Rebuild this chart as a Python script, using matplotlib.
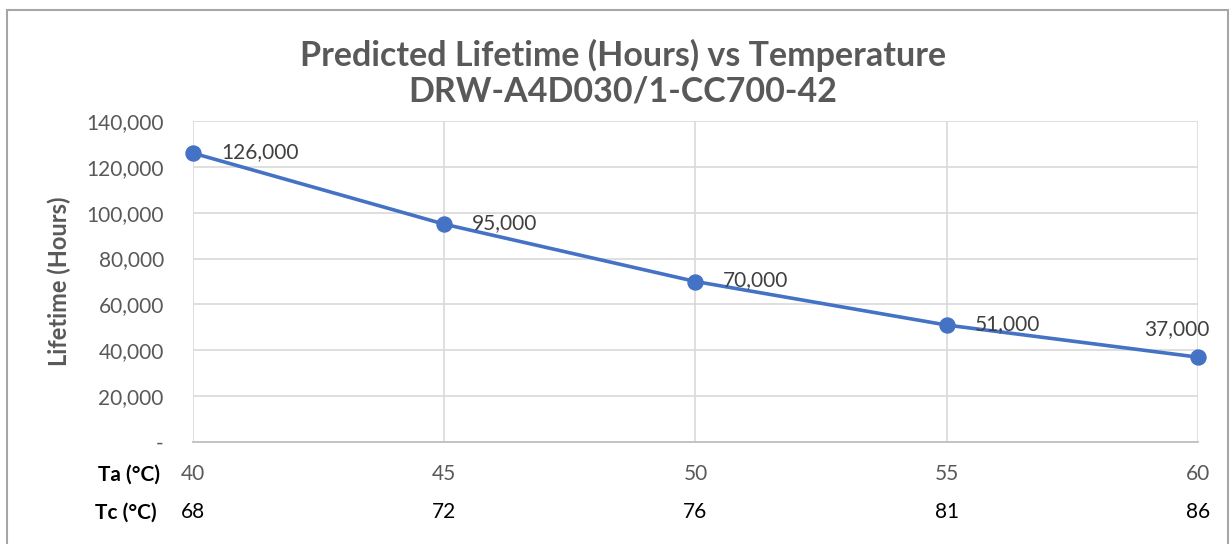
import matplotlib.pyplot as plt
from matplotlib.patches import Rectangle

plt.rcParams['font.family'] = ['Lato', 'DejaVu Sans']

ta = [40, 45, 50, 55, 60]
tc = [68, 72, 76, 81, 86]
lifetime = [126000, 95000, 70000, 51000, 37000]
yticks = [0, 20000, 40000, 60000, 80000, 100000, 120000, 140000]

gray = '#595959'
blue = '#4472C4'
fs = 15

fig = plt.figure(figsize=(12.3, 5.44), dpi=100)
ax = fig.add_axes([193 / 1230, 1 - 442 / 544, (1198 - 193) / 1230, (442 - 121) / 544])

# outer chart frame
fig.patches.append(Rectangle((7 / 1230, -0.05), (1228 - 7) / 1230, 1.05 - 10 / 544,
                             transform=fig.transFigure, fill=False,
                             edgecolor='#A6A6A6', linewidth=1.5))

xs = list(range(len(ta)))
ax.plot(xs, lifetime, color=blue, linewidth=2.6, marker='o', markersize=10.8,
        clip_on=False, zorder=3)

for i, v in enumerate(lifetime):
    if i == len(lifetime) - 1:
        ax.annotate(f'{v:,}', (i, v), xytext=(8, 20), textcoords='offset points',
                    ha='right', va='center', fontsize=fs, color='#404040')
    else:
        ax.annotate(f'{v:,}', (i, v), xytext=(20, 1), textcoords='offset points',
                    ha='left', va='center', fontsize=fs, color='#404040')

ax.set_xlim(0, len(ta) - 1)
ax.set_ylim(0, 140000)
ax.set_yticks(yticks)
ax.set_yticklabels(['-' if t == 0 else f'{t:,}' for t in yticks], fontsize=fs, color=gray)
ax.set_xticks(xs)
ax.set_xticklabels([])
ax.tick_params(length=0, pad=21)
ax.grid(True, color='#D9D9D9', linewidth=1.2)
ax.set_axisbelow(True)
for s in ['top', 'right', 'left']:
    ax.spines[s].set_visible(False)
ax.spines['bottom'].set_color('#BFBFBF')
ax.spines['bottom'].set_linewidth(1.3)

for i in xs:
    ax.annotate(str(ta[i]), (i, 0), xycoords=('data', 'axes fraction'),
                xytext=(0, -16), textcoords='offset points',
                ha='center', va='top', fontsize=fs, color=gray)
    ax.annotate(str(tc[i]), (i, 0), xycoords=('data', 'axes fraction'),
                xytext=(0, -43.5), textcoords='offset points',
                ha='center', va='top', fontsize=fs, color='black')

ax.annotate('Ta (°C)', (0, 0), xycoords='axes fraction', xytext=(-24, -16),
            textcoords='offset points', ha='right', va='top', fontsize=fs,
            fontweight='bold', color='black')
ax.annotate('Tc (°C)', (0, 0), xycoords='axes fraction', xytext=(-26, -43.5),
            textcoords='offset points', ha='right', va='top', fontsize=fs,
            fontweight='bold', color='black')

ax.set_ylabel('Lifetime (Hours)', fontsize=17, fontweight='bold', color=gray)
ax.yaxis.set_label_coords(-0.121, 0.5)

fig.text(623 / 1230, 1 - 73 / 544, 'Predicted Lifetime (Hours) vs Temperature\nDRW-A4D030/1-CC700-42',
         ha='center', va='center', fontsize=24.5, fontweight='bold', color=gray,
         linespacing=1.15)

fig.savefig('out.png', dpi=100)
